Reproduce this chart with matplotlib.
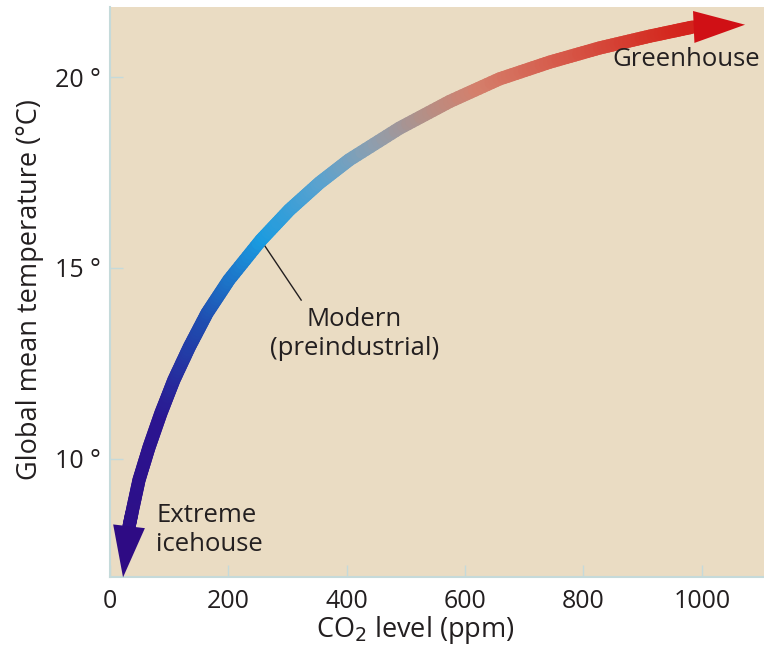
import numpy as np
import matplotlib
matplotlib.use('Agg')
import matplotlib.pyplot as plt
from matplotlib.collections import LineCollection
from matplotlib.colors import LinearSegmentedColormap
from matplotlib.patches import FancyArrowPatch, ArrowStyle

plt.rcParams['font.family'] = ['Open Sans', 'DejaVu Sans']

# curve (first and last points are the arrow tips,
# second and second-to-last are the bases of the arrow heads)
co2 = [22, 32, 37, 49, 66, 86, 108, 134, 164, 201, 255, 303, 354, 404,
       489, 574, 658, 743, 827, 912, 985, 1073]
temp = [6.9, 8.22, 8.59, 9.45, 10.31, 11.20, 12.07, 12.93, 13.82, 14.69, 15.73,
        16.52, 17.23, 17.83, 18.66, 19.36, 19.95, 20.39, 20.76, 21.07, 21.31, 21.37]

x_ticks = [0, 200, 400, 600, 800, 1000]
y_ticks = [10, 15, 20]
y_tick_labels = ['10 °', '15 °', '20 °']

modern = (255, 15.73)

bg = '#EADCC3'
txt = '#231F20'
axis_col = '#C5DADA'

cmap = LinearSegmentedColormap.from_list('co2', [
    (0.0, '#2E0B84'), (0.18, '#2B1590'), (0.30, '#1F4DB0'), (0.41, '#1A9BE0'),
    (0.50, '#5AA2CF'), (0.57, '#8C9FB0'), (0.63, '#B0918A'), (0.70, '#D4806C'),
    (0.80, '#D65A4A'), (0.92, '#D42A20'), (1.0, '#D01015')])

fig = plt.figure(figsize=(7.64, 6.49), dpi=100)
ax = fig.add_axes([0.144, 0.111, 0.856, 0.878])
ax.set_facecolor(bg)
ax.set_xlim(0, 1105)
ax.set_ylim(6.91, 21.83)

# colour along the curve by arc length (in pixels)
pts = np.column_stack([co2, temp])
pix = ax.transData.transform(pts)
arc = np.concatenate([[0], np.cumsum(np.hypot(*np.diff(pix, axis=0).T))])
frac = arc / arc[-1]

segs, cols = [], []
n = 12
for i in range(1, len(pts) - 2):
    for k in range(n):
        t0, t1 = k / n, (k + 1) / n
        p0 = pts[i] + (pts[i + 1] - pts[i]) * t0
        p1 = pts[i] + (pts[i + 1] - pts[i]) * t1
        segs.append([p0, p1])
        cols.append(cmap(frac[i] + (frac[i + 1] - frac[i]) * (t0 + t1) / 2))
lc = LineCollection(segs, colors=cols, linewidths=9.5, capstyle='round', zorder=3)
ax.add_collection(lc)

style = ArrowStyle('-|>', head_length=37, head_width=11.5)
for a, b, c in [(1, 0, cmap(0.0)), (-2, -1, cmap(1.0))]:
    arr = FancyArrowPatch(posA=(co2[a], temp[a]), posB=(co2[b], temp[b]),
                          arrowstyle=style, mutation_scale=1, shrinkA=0, shrinkB=0,
                          lw=0, color=c, zorder=4, clip_on=False)
    ax.add_patch(arr)

# labels
ax.plot([modern[0], 323], [modern[1], 14.16], color=txt, lw=1, zorder=2)
ax.text(413, 13.28, 'Modern\n(preindustrial)', ha='center', va='center',
        fontsize=18.5, color=txt, linespacing=1.2)
ax.text(78, 8.15, 'Extreme\nicehouse', ha='left', va='center',
        fontsize=18.5, color=txt, linespacing=1.2)
ax.text(848, 20.45, 'Greenhouse', ha='left', va='center', fontsize=18.5, color=txt)

ax.set_xticks(x_ticks)
ax.set_yticks(y_ticks)
ax.set_yticklabels(y_tick_labels)
ax.tick_params(direction='in', length=9, width=1, color=axis_col,
               labelsize=18, labelcolor=txt)
ax.tick_params(axis='y', pad=7)
ax.tick_params(axis='x', pad=9)

for s in ['top', 'right']:
    ax.spines[s].set_visible(False)
for s in ['left', 'bottom']:
    ax.spines[s].set_color(axis_col)
    ax.spines[s].set_linewidth(1.5)

ax.set_xlabel('CO$_2$ level (ppm)', fontsize=19.5, color=txt, va='center')
ax.xaxis.set_label_coords(0.466, -0.093)
ax.set_ylabel('Global mean temperature (°C)', fontsize=19.5, color=txt, va='center')
ax.yaxis.set_label_coords(-0.122, 0.504)

plt.savefig('out.png', dpi=100)
